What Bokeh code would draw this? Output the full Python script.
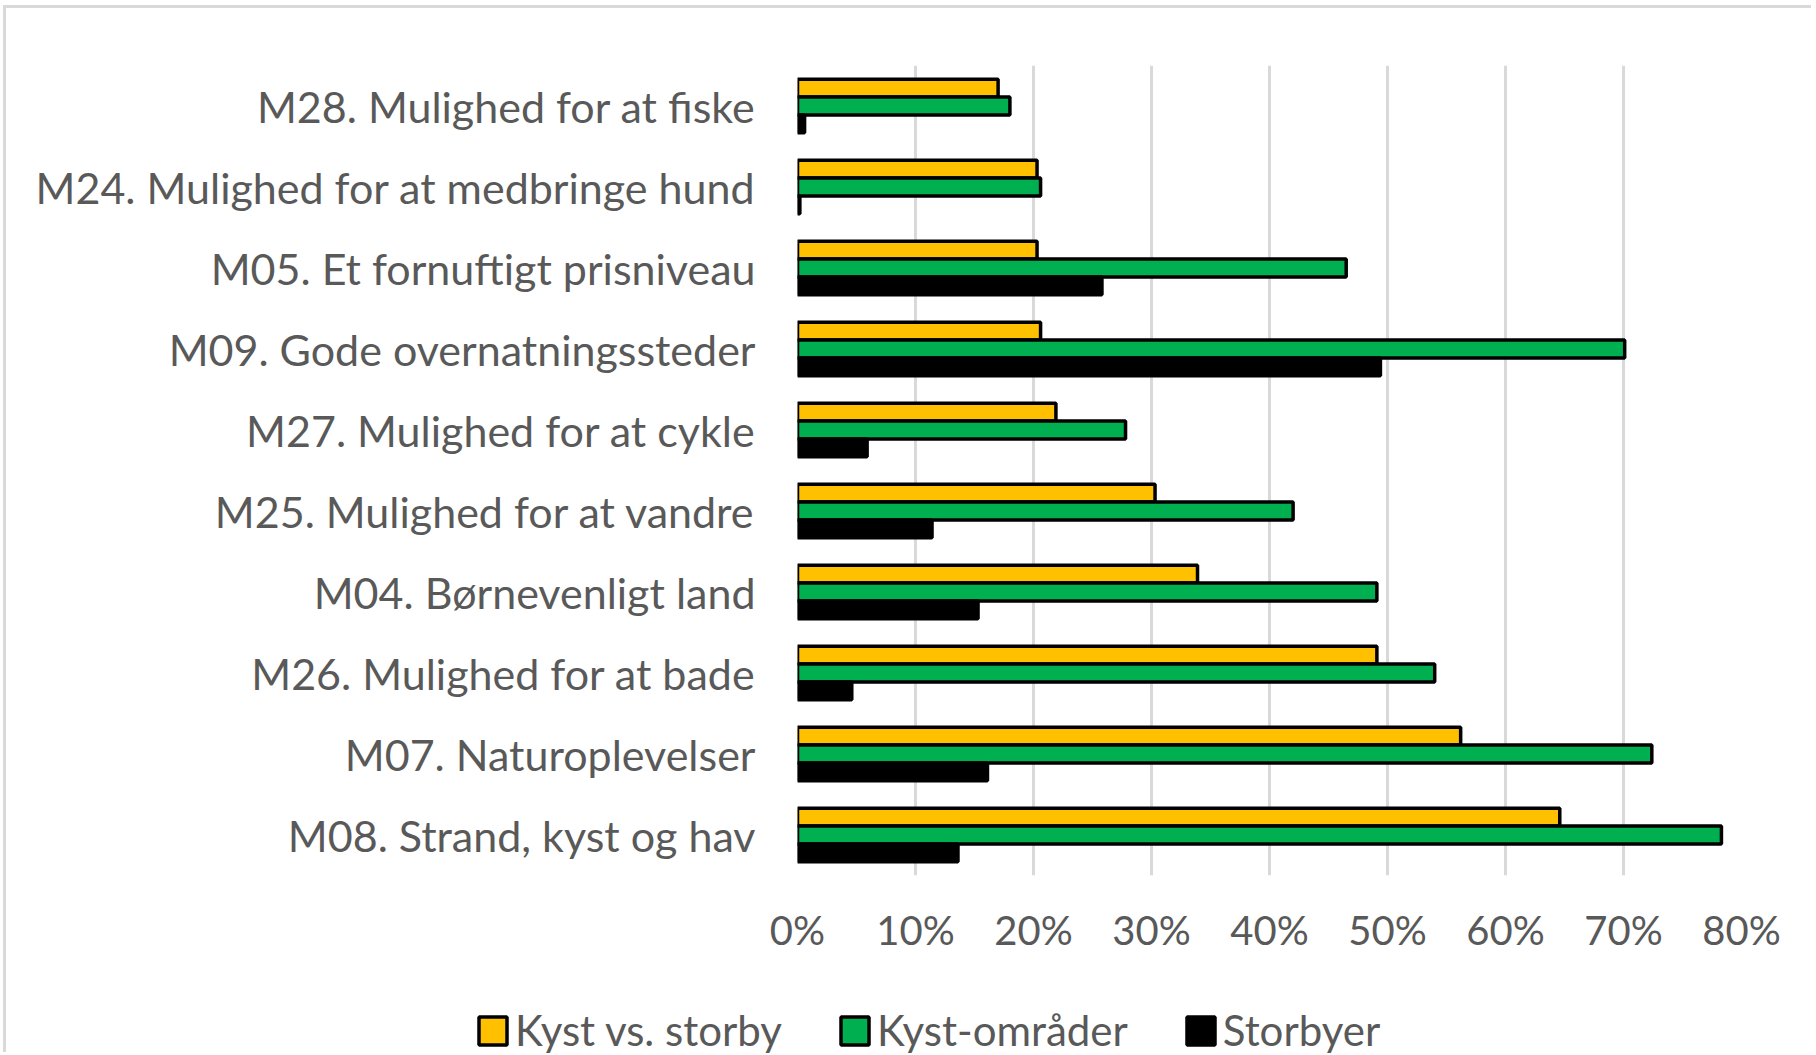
from bokeh.plotting import figure
from bokeh.layouts import column
from bokeh.models import Legend, LegendItem, FactorRange, Range1d, FixedTicker, ColumnDataSource
from bokeh.transform import dodge
from bokeh.embed import file_html
from bokeh.resources import INLINE

# ---- data (top to bottom as in the chart) ----
categories = [
    "M28. Mulighed for at fiske",
    "M24. Mulighed for at medbringe hund",
    "M05. Et fornuftigt prisniveau",
    "M09. Gode overnatningssteder",
    "M27. Mulighed for at cykle",
    "M25. Mulighed for at vandre",
    "M04. Børnevenligt land",
    "M26. Mulighed for at bade",
    "M07. Naturoplevelser",
    "M08. Strand, kyst og hav",
]
kyst_vs_storby = [17.0, 20.3, 20.3, 20.6, 21.9, 30.3, 33.9, 49.1, 56.2, 64.6]
kyst_omraader = [18.0, 20.6, 46.5, 70.1, 27.8, 42.0, 49.1, 54.0, 72.4, 78.3]
storbyer = [0.6, 0.2, 25.8, 49.4, 5.9, 11.4, 15.3, 4.6, 16.1, 13.6]
series_names = ["Kyst vs. storby", "Kyst-områder", "Storbyer"]
x_ticks = [0, 10, 20, 30, 40, 50, 60, 70, 80]
x_tick_labels = ["0%", "10%", "20%", "30%", "40%", "50%", "60%", "70%", "80%"]

FONT = "Lato"
GRAY = "#595959"
colors = ["#FFC000", "#00B050", "#000000"]
cols = ["a", "b", "c"]

src = ColumnDataSource(dict(
    cat=categories,
    a=kyst_vs_storby,
    b=kyst_omraader,
    c=storbyer,
))

W = 1808
p = figure(
    width=W, height=957,
    y_range=FactorRange(factors=list(reversed(categories))),
    x_range=Range1d(0, 80),
    output_backend="svg", toolbar_location=None,
    min_border_left=791, min_border_right=73,
    min_border_top=57, min_border_bottom=90,
)
p.frame_align = False
p.outline_line_color = None
p.background_fill_color = "white"
p.border_fill_color = "white"

bh = 0.22
bar_style = dict(line_color="black", line_width=3.5)
for col, off, colr in zip(cols, [bh, 0, -bh], colors):
    p.hbar(y=dodge("cat", off, range=p.y_range), left=0, right=col, height=bh,
           source=src, fill_color=colr, **bar_style)

p.xgrid.grid_line_color = "#d9d9d9"
p.xgrid.grid_line_width = 3
p.ygrid.grid_line_color = None

p.xaxis.ticker = FixedTicker(ticks=x_ticks)
p.xaxis.major_label_overrides = {t: l for t, l in zip(x_ticks, x_tick_labels)}
for ax in (p.xaxis, p.yaxis):
    ax.axis_line_color = None
    ax.major_tick_line_color = None
    ax.minor_tick_line_color = None
    ax.major_tick_out = 0
    ax.major_tick_in = 0
    ax.major_label_text_font = FONT
    ax.major_label_text_color = GRAY
p.xaxis.major_label_text_font_size = "40px"
p.yaxis.major_label_text_font_size = "43px"
p.xaxis.major_label_standoff = 30
p.yaxis.major_label_standoff = 42

# ---- legend strip below the chart (its renderers are hidden, only the legend shows) ----
pl = figure(
    width=W, height=90, x_range=Range1d(0, 1), y_range=Range1d(0, 1),
    output_backend="svg", toolbar_location=None, min_border=0,
)
pl.frame_align = False
pl.axis.visible = False
pl.grid.grid_line_color = None
pl.outline_line_color = None
leg_renderers = []
for col, c in zip(cols, colors):
    r = pl.hbar(y=dodge("cat", 0, range=p.y_range), right=col, height=bh,
                source=src, fill_color=c, **bar_style)
    r.visible = False
    leg_renderers.append(r)
legend = Legend(
    items=[LegendItem(label=n, renderers=[r]) for n, r in zip(series_names, leg_renderers)],
    orientation="horizontal",
    location=(469, 0),
    glyph_width=35, glyph_height=35,
    label_text_font=FONT, label_text_font_size="42px", label_text_color=GRAY,
    label_text_baseline="alphabetic",
    label_standoff=5, spacing=55, padding=0, margin=0,
    border_line_color=None, background_fill_alpha=0,
    inactive_fill_alpha=0,
)
pl.add_layout(legend)

layout = column(p, pl, spacing=0,
                styles={"margin-left": "6px", "margin-top": "8px",
                        "box-shadow": "-3px -3px 0 0 #d9d9d9"})

open("out.html", "w").write(file_html(layout, INLINE))
